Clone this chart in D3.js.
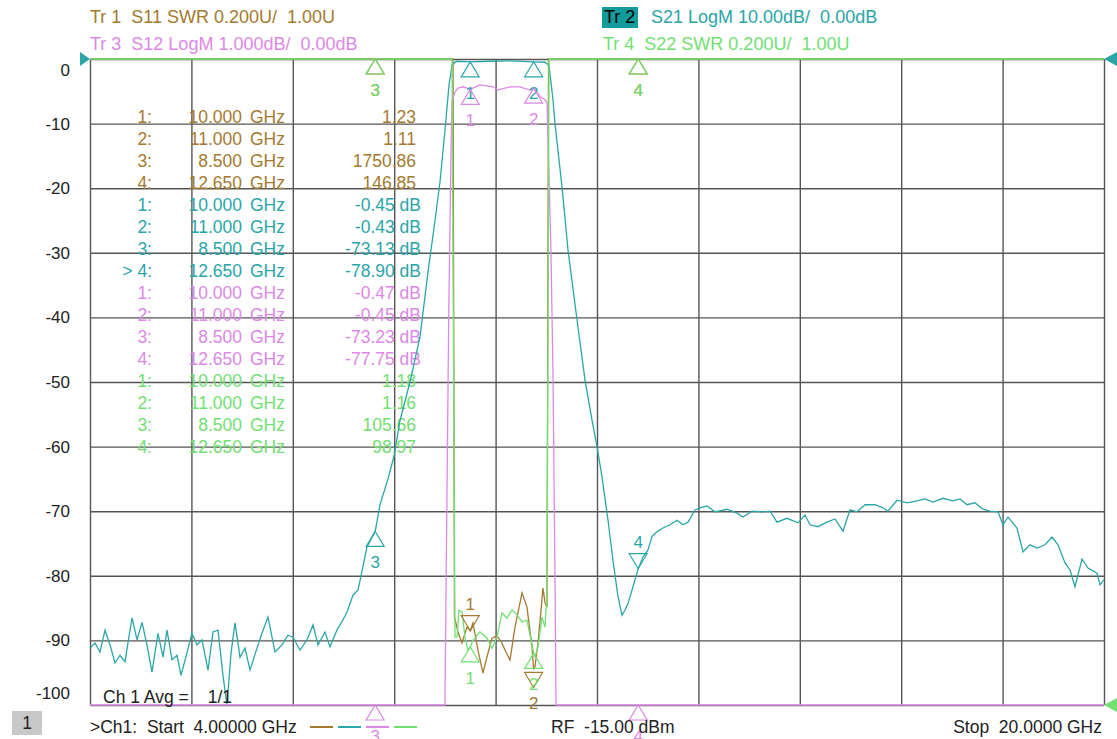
<!DOCTYPE html>
<html>
<head>
<meta charset="utf-8">
<script src="https://cdn.jsdelivr.net/npm/d3@7"></script>
<style>
    body { margin: 0; background: #fff; }
    svg { display: block; font-family: "Liberation Sans", Arial, sans-serif; }
    text { white-space: pre; }
</style>
</head>
<body>
<div id="svg"></div>
<script>
// 频率 GHz / 幅度 (dB 或 SWR)
var s21Data = [
    [4.000, -91.2], [4.079, -90.4], [4.158, -91.8], [4.237, -88.4], [4.316, -90.7], [4.394, -93.5],
    [4.473, -92.3], [4.552, -93.3], [4.663, -86.5], [4.742, -89.9], [4.821, -87.2], [4.899, -90.7],
    [4.978, -94.9], [5.073, -88.9], [5.152, -92.6], [5.215, -88.4], [5.294, -93.0], [5.373, -92.3],
    [5.436, -95.4], [5.531, -91.9], [5.609, -88.9], [5.688, -90.7], [5.767, -89.9], [5.862, -94.6],
    [5.941, -88.7], [6.020, -88.4], [6.099, -95.5], [6.162, -100.5], [6.225, -92.0], [6.288, -87.3],
    [6.367, -92.6], [6.446, -91.2], [6.525, -94.6], [6.635, -91.2], [6.714, -88.9], [6.809, -86.4],
    [6.919, -91.8], [7.030, -90.7], [7.124, -89.2], [7.203, -89.5], [7.314, -91.5], [7.424, -89.9],
    [7.519, -87.6], [7.598, -90.7], [7.708, -88.7], [7.787, -91.0], [7.897, -88.4], [7.992, -86.8],
    [8.055, -85.6], [8.150, -83.0], [8.229, -82.2], [8.260, -80.8], [8.371, -75.5], [8.500, -73.13],
    [8.576, -69.0], [8.702, -65.0], [8.797, -61.5], [8.891, -56.0], [9.049, -50.0], [9.207, -43.0],
    [9.333, -33.0], [9.444, -25.0], [9.523, -19.0], [9.602, -11.0], [9.665, -4.0], [9.712, -1.0],
    [9.775, -0.35], [10.000, -0.45], [10.312, -0.35], [10.627, -0.30], [11.000, -0.43], [11.180, -0.50],
    [11.243, -1.0], [11.306, -6.3], [11.337, -10.0], [11.448, -19.8], [11.543, -29.6], [11.685, -40.4],
    [11.811, -49.7], [11.921, -55.9], [12.000, -60.0], [12.079, -64.7], [12.174, -71.4], [12.252, -77.6],
    [12.331, -83.2], [12.394, -86.1], [12.442, -85.3], [12.489, -84.3], [12.568, -81.7], [12.650, -78.9],
    [12.726, -77.1], [12.805, -76.0], [12.868, -73.9], [12.947, -73.2], [13.041, -72.6], [13.152, -72.1],
    [13.262, -71.4], [13.357, -72.1], [13.436, -71.7], [13.546, -69.8], [13.625, -69.5], [13.736, -69.2],
    [13.862, -70.1], [14.051, -69.7], [14.209, -70.3], [14.304, -70.9], [14.446, -70.0], [14.619, -70.1],
    [14.730, -70.0], [14.840, -71.7], [14.998, -71.1], [15.172, -71.8], [15.282, -70.6], [15.361, -72.1],
    [15.487, -72.4], [15.629, -71.7], [15.755, -71.2], [15.882, -73.1], [15.992, -69.8], [16.102, -70.1],
    [16.229, -69.0], [16.386, -69.0], [16.497, -69.4], [16.592, -70.0], [16.734, -68.3], [16.892, -68.7],
    [17.049, -68.4], [17.175, -68.1], [17.302, -68.6], [17.460, -68.0], [17.617, -68.4], [17.728, -68.1],
    [17.838, -69.0], [17.964, -68.7], [18.075, -69.6], [18.201, -70.0], [18.327, -70.1], [18.406, -72.1],
    [18.485, -70.9], [18.627, -72.6], [18.722, -76.3], [18.832, -75.2], [18.943, -75.7], [19.069, -75.2],
    [19.180, -74.0], [19.274, -75.2], [19.385, -78.0], [19.464, -79.1], [19.542, -81.7], [19.653, -77.4],
    [19.748, -78.8], [19.890, -79.6], [19.937, -81.4], [20.000, -80.6]
];
var s12Data = [
    [4.000, -91.0], [8.500, -73.23], [9.207, -43.0], [9.600, -12.0], [9.620, -8.0], [9.660, -4.0],
    [9.700, -1.2], [9.712, -0.65], [9.759, -0.51], [9.807, -0.45], [9.886, -0.43], [10.000, -0.47],
    [10.154, -0.40], [10.359, -0.43], [10.438, -0.48], [10.517, -0.46], [10.627, -0.43], [10.785, -0.43],
    [10.943, -0.48], [11.000, -0.45], [11.101, -0.58], [11.180, -0.63], [11.211, -0.68], [11.227, -1.22],
    [11.274, -3.0], [11.306, -4.9], [11.337, -8.0], [11.353, -12.0], [11.921, -56.0], [12.650, -77.75],
    [20.000, -81.0]
];
var s11Data = [
    [4.000, 150], [8.500, 1750.86], [9.712, 30], [9.728, 3.2], [9.751, 1.272], [9.807, 1.226],
    [9.870, 1.192], [9.949, 1.241], [10.000, 1.23], [10.043, 1.254], [10.122, 1.17], [10.201, 1.099],
    [10.280, 1.161], [10.343, 1.207], [10.422, 1.214], [10.501, 1.192], [10.548, 1.17], [10.627, 1.139],
    [10.706, 1.241], [10.817, 1.347], [10.895, 1.303], [10.974, 1.18], [11.000, 1.11], [11.022, 1.12],
    [11.069, 1.192], [11.148, 1.362], [11.180, 1.316], [11.211, 1.303], [11.235, 4.0], [11.260, 40],
    [12.650, 146.85], [20.000, 150]
];
var s22Data = [
    [4.000, 150], [8.500, 105.66], [9.700, 20], [9.712, 3.1], [9.759, 1.21], [9.791, 1.21],
    [9.822, 1.294], [9.870, 1.288], [9.917, 1.21], [9.964, 1.17], [10.000, 1.18], [10.043, 1.20],
    [10.154, 1.226], [10.264, 1.207], [10.343, 1.176], [10.422, 1.21], [10.501, 1.285], [10.580, 1.269],
    [10.659, 1.294], [10.738, 1.279], [10.817, 1.257], [10.895, 1.263], [10.974, 1.186], [11.000, 1.16],
    [11.022, 1.149], [11.069, 1.18], [11.132, 1.272], [11.180, 1.241], [11.211, 1.35], [11.243, 3.2],
    [11.258, 20], [12.650, 98.97], [20.000, 140]
];

// 标记 [编号, 频率 GHz, 值]
var s11Markers = [[1, 10.0, 1.23], [2, 11.0, 1.11], [3, 8.5, 1750.86], [4, 12.65, 146.85]];
var s21Markers = [[1, 10.0, -0.45], [2, 11.0, -0.43], [3, 8.5, -73.13], [4, 12.65, -78.90]];
var s12Markers = [[1, 10.0, -0.47], [2, 11.0, -0.45], [3, 8.5, -73.23], [4, 12.65, -77.75]];
var s22Markers = [[1, 10.0, 1.18], [2, 11.0, 1.16], [3, 8.5, 105.66], [4, 12.65, 98.97]];

var yTicks = [0, -10, -20, -30, -40, -50, -60, -70, -80, -90, -100];
var xTicks = [4, 5.6, 7.2, 8.8, 10.4, 12, 13.6, 15.2, 16.8, 18.4, 20];

var headerLeft = ['Tr 1  S11 SWR 0.200U/  1.00U', 'Tr 3  S12 LogM 1.000dB/  0.00dB'];
var headerRight = ['S21 LogM 10.00dB/  0.00dB', 'Tr 4  S22 SWR 0.200U/  1.00U'];

var width = 1117;
var height = 739;
var plot = { left: 90, right: 1104, top: 59, bottom: 705 };

var colors = { s11: '#a47a30', s21: '#2aa6a8', s12: '#dd88e6', s22: '#72e072', grid: '#555' };

// d3.format 默认输出 U+2212, 仪器屏幕用的是普通连字符
function fmt2(v) {
    return d3.format('.2f')(v).replace('\u2212', '-');
}

var svg = d3.select('#svg')
    .append('svg')
    .attr('width', width)
    .attr('height', height);

var xScale = d3.scaleLinear().domain([4, 20]).range([plot.left, plot.right]);
var yGrid = d3.scaleLinear().domain([-100, 0]).range([plot.bottom, plot.top]);
// 每条迹线自己的纵轴比例尺, clamp 模拟超出屏幕时贴边
var yS21 = d3.scaleLinear().domain([-100, 0]).range([plot.bottom, plot.top]).clamp(true);
var yS12 = d3.scaleLinear().domain([-10, 0]).range([plot.bottom, plot.top]).clamp(true);
var ySWR = d3.scaleLinear().domain([1, 3]).range([plot.bottom, plot.top]).clamp(true);

// 网格
var gridX = d3.axisBottom(xScale).tickValues(xTicks).tickSize(-(plot.bottom - plot.top)).tickFormat('');
svg.append('g')
    .attr('transform', 'translate(0,' + plot.bottom + ')')
    .call(gridX)
    .call(function (g) {
        g.select('.domain').remove();
        g.selectAll('line').attr('stroke', colors.grid).attr('stroke-width', 1.4);
    });

var yAxis = d3.axisLeft(yGrid).tickValues(yTicks).tickSize(-(plot.right - plot.left)).tickPadding(20)
    .tickFormat(function (d) { return String(d); });
svg.append('g')
    .attr('transform', 'translate(' + plot.left + ',0)')
    .call(yAxis)
    .call(function (g) {
        g.select('.domain').remove();
        g.selectAll('line').attr('stroke', colors.grid).attr('stroke-width', 1.4);
        g.selectAll('text')
            .attr('font-size', 17)
            .attr('fill', '#222')
            .attr('font-family', '"Liberation Sans", Arial, sans-serif')
            .attr('dy', function (d) {
                if (d === 0) return '0.95em';
                if (d === -100) return '-0.4em';
                return '0.32em';
            });
    });

// 标记读数表
var tableRows = [];
[[s11Markers, colors.s11, false], [s21Markers, colors.s21, true], [s12Markers, colors.s12, true], [s22Markers, colors.s22, false]]
    .forEach(function (t, ti) {
        t[0].forEach(function (m) {
            tableRows.push({
                idx: (ti === 1 && m[0] === 4 ? '> ' : '') + m[0] + ':',
                freq: d3.format('.3f')(m[1]),
                val: fmt2(m[2]) + (t[2] ? ' dB' : ''),
                isDb: t[2],
                color: t[1]
            });
        });
    });

var table = svg.append('g').attr('font-size', 17.5);
tableRows.forEach(function (r, i) {
    var y = 117 + i * 22;
    table.append('text').attr('x', 152).attr('y', y).attr('dy', '0.35em').attr('text-anchor', 'end').attr('fill', r.color).text(r.idx);
    table.append('text').attr('x', 242).attr('y', y).attr('dy', '0.35em').attr('text-anchor', 'end').attr('fill', r.color).text(r.freq);
    table.append('text').attr('x', 250).attr('y', y).attr('dy', '0.35em').attr('fill', r.color).text('GHz');
    table.append('text').attr('x', r.isDb ? 421 : 416).attr('y', y).attr('dy', '0.35em').attr('text-anchor', 'end').attr('fill', r.color).text(r.val);
});

// 迹线
function traceLine(yScale) {
    return d3.line()
        .x(function (d) { return xScale(d[0]); })
        .y(function (d) { return yScale(d[1]); });
}
var traces = [
    [s11Data, ySWR, colors.s11],
    [s21Data, yS21, colors.s21],
    [s12Data, yS12, colors.s12],
    [s22Data, ySWR, colors.s22]
];
traces.forEach(function (t) {
    svg.append('path')
        .attr('d', traceLine(t[1])(t[0]))
        .attr('fill', 'none')
        .attr('stroke', t[2])
        .attr('stroke-width', 1.3);
});

// 标记三角
// dir: up 为 △ 尖端朝上, down 为 ▽
var markerStyle = {
    s11: [{ dir: 'down', off: 0, lab: 'above' }, { dir: 'down', off: 18, lab: 'below' }, { dir: 'up', off: 0, lab: 'below' }, { dir: 'up', off: 0, lab: 'below' }],
    s21: [{ dir: 'up', off: 0, lab: 'below' }, { dir: 'up', off: 0, lab: 'below' }, { dir: 'up', off: 0, lab: 'below' }, { dir: 'down', off: 0, lab: 'above' }],
    s12: [{ dir: 'up', off: 0, lab: 'below' }, { dir: 'up', off: 0, lab: 'below' }, { dir: 'up', off: 0, lab: 'below' }, { dir: 'up', off: 0, lab: 'below' }],
    s22: [{ dir: 'up', off: 0, lab: 'below' }, { dir: 'up', off: 0, lab: 'below' }, { dir: 'up', off: 0, lab: 'below' }, { dir: 'up', off: 0, lab: 'below' }]
};
function drawMarkers(list, yScale, color, style) {
    var g = svg.append('g');
    list.forEach(function (m, i) {
        var s = style[i];
        var x = xScale(m[1]);
        var y = yScale(m[2]) + s.off;
        var h = s.dir === 'up' ? 15 : -15;
        g.append('path')
            .attr('d', 'M' + x + ',' + y + 'L' + (x - 9) + ',' + (y + h) + 'L' + (x + 9) + ',' + (y + h) + 'Z')
            .attr('fill', 'none')
            .attr('stroke', color)
            .attr('stroke-width', 1.2);
        var ly = s.lab === 'below' ? Math.max(y, y + h) + 16 : Math.min(y, y + h) - 12;
        g.append('text')
            .attr('x', x).attr('y', ly).attr('dy', '0.35em')
            .attr('text-anchor', 'middle')
            .attr('font-size', 17)
            .attr('fill', color)
            .text(m[0]);
    });
}
drawMarkers(s11Markers, ySWR, colors.s11, markerStyle.s11);
drawMarkers(s21Markers, yS21, colors.s21, markerStyle.s21);
drawMarkers(s12Markers, yS12, colors.s12, markerStyle.s12);
drawMarkers(s22Markers, ySWR, colors.s22, markerStyle.s22);

// 参考位置三角
svg.append('path')
    .attr('d', 'M' + (plot.left - 10) + ',' + (plot.top - 7) + 'L' + plot.left + ',' + plot.top + 'L' + (plot.left - 10) + ',' + (plot.top + 7) + 'Z')
    .attr('fill', colors.s21);
svg.append('path')
    .attr('d', 'M' + (plot.right + 13) + ',' + (plot.top - 7) + 'L' + plot.right + ',' + plot.top + 'L' + (plot.right + 13) + ',' + (plot.top + 7) + 'Z')
    .attr('fill', colors.s21);
svg.append('path')
    .attr('d', 'M' + (plot.right + 13) + ',' + (plot.bottom - 7) + 'L' + plot.right + ',' + plot.bottom + 'L' + (plot.right + 13) + ',' + (plot.bottom + 7) + 'Z')
    .attr('fill', colors.s22);

// 顶部标题
var header = svg.append('g').attr('font-size', 18);
header.append('text').attr('x', 90).attr('y', 23).attr('fill', colors.s11).text(headerLeft[0]);
header.append('text').attr('x', 90).attr('y', 50).attr('fill', colors.s12).text(headerLeft[1]);
header.append('rect').attr('x', 602).attr('y', 7).attr('width', 36).attr('height', 21).attr('fill', '#139b9b');
header.append('text').attr('x', 604).attr('y', 23).attr('fill', '#000').text('Tr 2');
header.append('text').attr('x', 651).attr('y', 23).attr('fill', colors.s21).text(headerRight[0]);
header.append('text').attr('x', 603).attr('y', 50).attr('fill', colors.s22).text(headerRight[1]);

// 底部信息
var footer = svg.append('g').attr('font-size', 17.5).attr('fill', '#222');
footer.append('text').attr('x', 103).attr('y', 703).text('Ch 1 Avg =');
footer.append('text').attr('x', 232).attr('y', 703).attr('text-anchor', 'end').text('1/1');
footer.append('rect').attr('x', 12).attr('y', 711).attr('width', 30).attr('height', 24).attr('fill', '#c8c8c8');
footer.append('text').attr('x', 27).attr('y', 729).attr('text-anchor', 'middle').text('1');
footer.append('text').attr('x', 90).attr('y', 733).text('>Ch1:  Start  4.00000 GHz');
footer.append('text').attr('x', 551).attr('y', 733).text('RF  -15.00 dBm');
footer.append('text').attr('x', 1102).attr('y', 733).attr('text-anchor', 'end').text('Stop  20.0000 GHz');
[colors.s11, colors.s21, colors.s12, colors.s22].forEach(function (c, i) {
    footer.append('line')
        .attr('x1', 310 + i * 28).attr('x2', 333 + i * 28)
        .attr('y1', 727).attr('y2', 727)
        .attr('stroke', c).attr('stroke-width', 2);
});
</script>
</body>
</html>
